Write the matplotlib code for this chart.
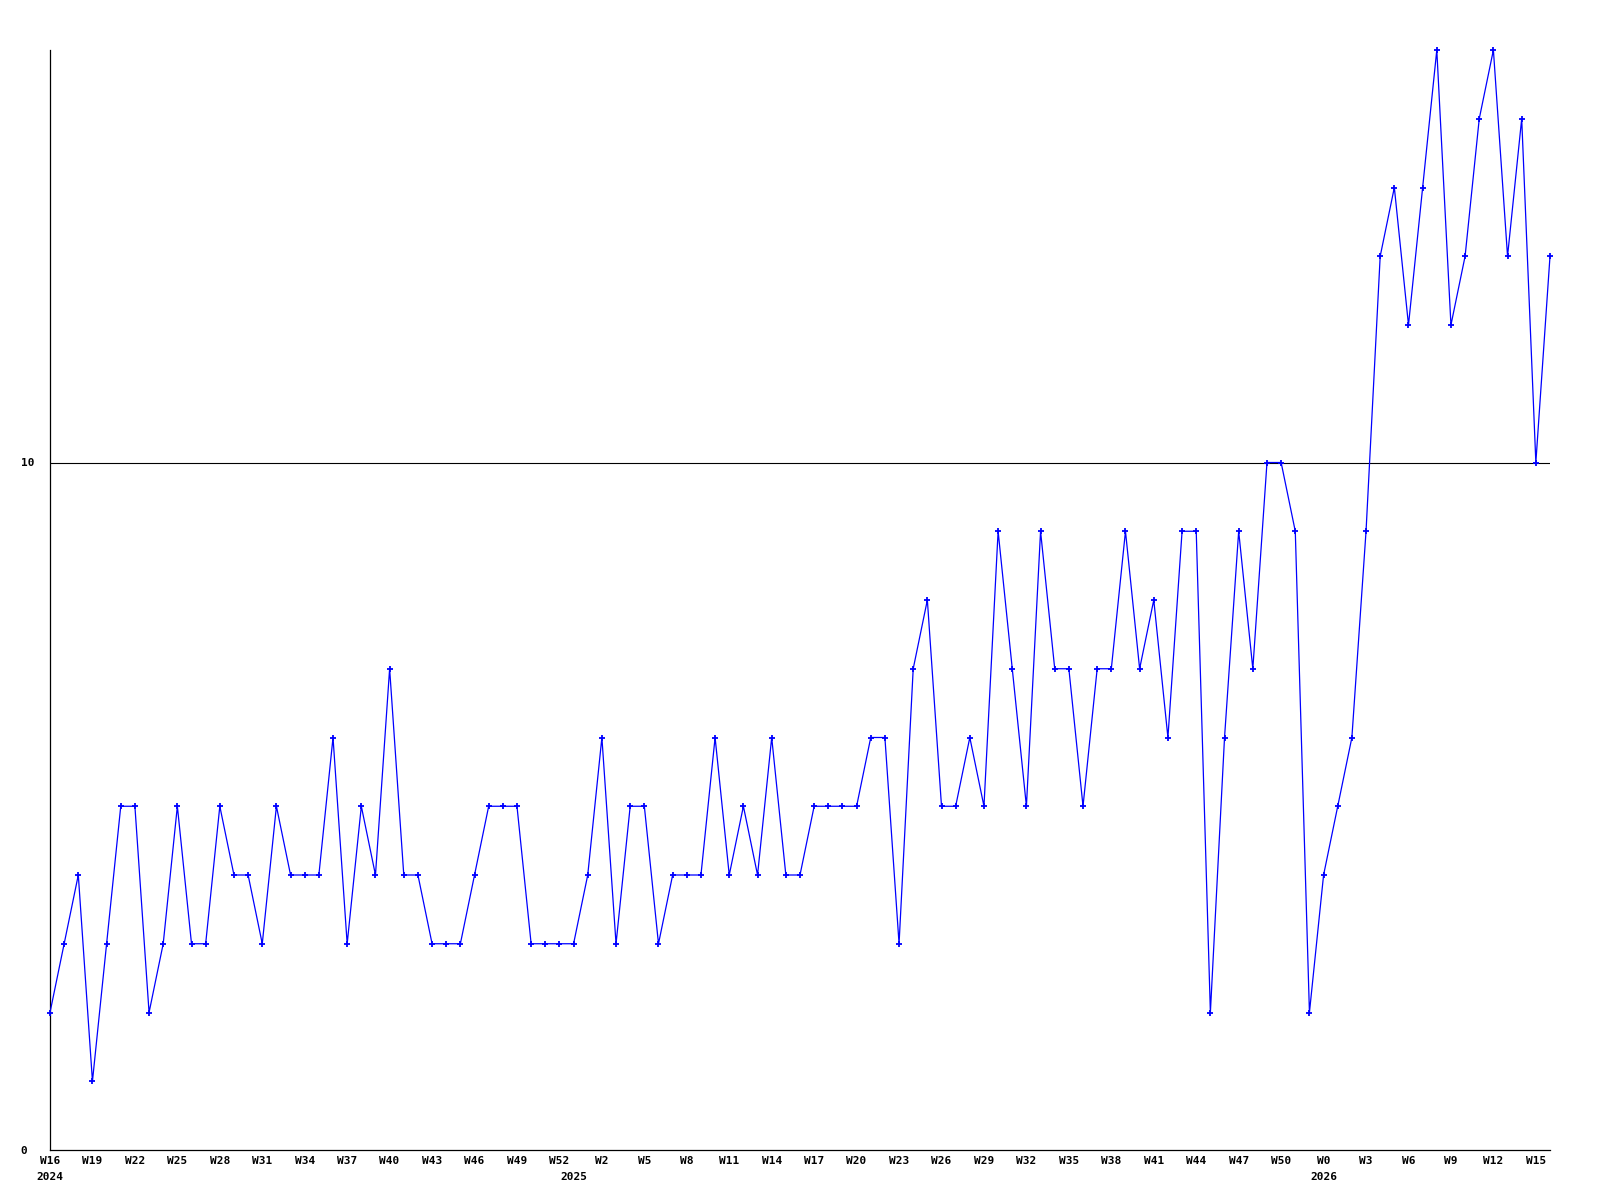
import matplotlib
matplotlib.use('Agg')
import matplotlib.pyplot as plt

# --- veri (haftalik sayim, 2024 W16 -> 2026 W16) ---
values = [2, 3, 4, 1, 3, 5, 5, 2, 3, 5, 3, 3, 5, 4, 4, 3, 5, 4, 4, 4,
          6, 3, 5, 4, 7, 4, 4, 3, 3, 3, 4, 5, 5, 5, 3, 3, 3, 3, 4, 6,
          3, 5, 5, 3, 4, 4, 4, 6, 4, 5, 4, 6, 4, 4, 5, 5, 5, 5, 6, 6,
          3, 7, 8, 5, 5, 6, 5, 9, 7, 5, 9, 7, 7, 5, 7, 7, 9, 7, 8, 6,
          9, 9, 2, 6, 9, 7, 10, 10, 9, 2, 4, 5, 6, 9, 13, 14, 12, 14, 16, 12,
          13, 15, 16, 13, 15, 10, 13]

week_tick_pos = [0, 3, 6, 9, 12, 15, 18, 21, 24, 27, 30, 33, 36, 39, 42, 45, 48, 51,
                 54, 57, 60, 63, 66, 69, 72, 75, 78, 81, 84, 87, 90, 93, 96, 99, 102, 105]
week_tick_labels = ['W16', 'W19', 'W22', 'W25', 'W28', 'W31', 'W34', 'W37', 'W40',
                    'W43', 'W46', 'W49', 'W52', 'W2', 'W5', 'W8', 'W11', 'W14', 'W17',
                    'W20', 'W23', 'W26', 'W29', 'W32', 'W35', 'W38', 'W41', 'W44', 'W47',
                    'W50', 'W0', 'W3', 'W6', 'W9', 'W12', 'W15']
year_pos = [0, 37, 90]
year_labels = ['2024', '2025', '2026']
y_ticks = [0, 10]
ref_level = 10

# --- cizim ---
fig = plt.figure(figsize=(16, 12), dpi=100)
ax = fig.add_axes([50 / 1600, 50 / 1200, 1500 / 1600, 1100 / 1200])

x = list(range(len(values)))
ax.plot(x, values, color='#0000ff', linewidth=0.9, marker='+',
        markersize=4.5, markeredgewidth=1.3, clip_on=False, zorder=3)
ax.axhline(ref_level, color='black', linewidth=0.8, zorder=2)

ax.set_xlim(0, len(values) - 1)
ax.set_ylim(0, 16)

for s in ['top', 'right']:
    ax.spines[s].set_visible(False)
for s in ['left', 'bottom']:
    ax.spines[s].set_linewidth(0.9)

font = dict(family='DejaVu Sans Mono', weight='bold', size=8)

# yil etiketleri hafta etiketleriyle ayni yerde olabilir, silinmesin
ax.xaxis.remove_overlapping_locs = False
ax.set_xticks(week_tick_pos, labels=week_tick_labels, fontdict=font)
ax.set_xticks(year_pos, labels=year_labels, minor=True, fontdict=font)
ax.tick_params(axis='x', which='major', length=0, pad=4)
ax.tick_params(axis='x', which='minor', length=0, pad=16)

ax.set_yticks(y_ticks, labels=[str(v) for v in y_ticks], fontdict=font)
ax.tick_params(axis='y', length=0, pad=21)
for lbl in ax.get_yticklabels():
    lbl.set_horizontalalignment('left')

fig.savefig('out.png', dpi=100, facecolor='white')
plt.close(fig)
